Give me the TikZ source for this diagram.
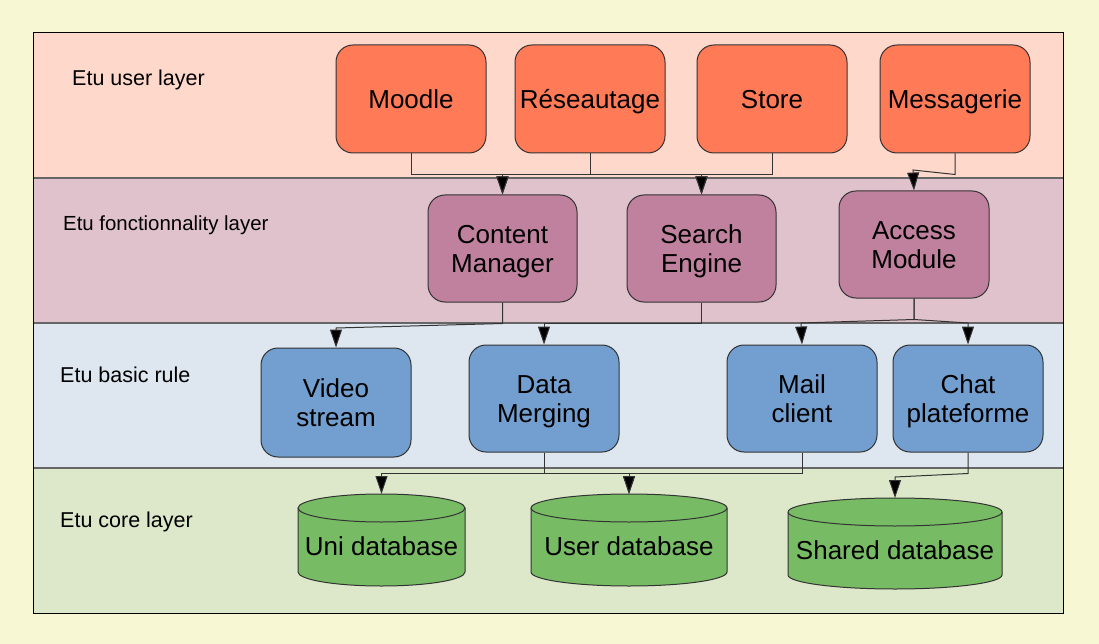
\documentclass[tikz,border=0pt]{standalone}
\usepackage{fontspec}
\setmainfont{Liberation Sans}
\usetikzlibrary{arrows.meta}
\definecolor{bgc}{HTML}{F7F7D4}
\definecolor{layA}{HTML}{FFD8CC}
\definecolor{layB}{HTML}{E0C2CC}
\definecolor{layC}{HTML}{DEE6EF}
\definecolor{layD}{HTML}{DDE8CB}
\definecolor{orangebox}{HTML}{FF7B58}
\definecolor{purplebox}{HTML}{C0819F}
\definecolor{bluebox}{HTML}{729FCF}
\definecolor{greenbox}{HTML}{77BC65}
\definecolor{edgec}{HTML}{333333}
\newcommand{\bs}{\rule[-5pt]{0pt}{28.6pt}}
\newcommand{\ls}{\rule[-4pt]{0pt}{23.4pt}}
\tikzset{
  box/.style={draw=edgec, line width=1pt, rectangle, rounded corners=17pt,
    minimum width=150pt, minimum height=108pt, inner sep=0pt, align=center,
    font=\fontsize{26}{29}\selectfont},
  ubox/.style={box, fill=orangebox},
  fbox/.style={box, fill=purplebox},
  bbox/.style={box, fill=bluebox},
  laylabel/.style={anchor=west, inner sep=0pt, font=\fontsize{21.5}{25}\selectfont},
  conn/.style={draw=edgec, line width=1pt, -{Triangle[length=18pt,width=12pt,fill=black]}},
  dbtext/.style={inner sep=0pt, font=\fontsize{26}{30}\selectfont},
  dbshape/.style={fill=greenbox, draw=edgec, line width=1pt},
}
\newcommand{\dbcyl}[5]{% name, left x, right x, top y, bottom y
  \pgfmathsetmacro{\rxx}{(#3-#2)/2}
  \pgfmathsetmacro{\cxx}{(#3+#2)/2}
  \pgfmathsetmacro{\yta}{#4+14}
  \pgfmathsetmacro{\ytb}{#5-14}
  \path[dbshape] (#2,\yta) -- (#2,\ytb)
     arc[start angle=180, end angle=360, x radius=\rxx pt, y radius=14pt]
     -- (#3,\yta)
     arc[start angle=0, end angle=180, x radius=\rxx pt, y radius=14pt] -- cycle;
  \draw[edgec, line width=1pt] (#2,\yta)
     arc[start angle=180, end angle=360, x radius=\rxx pt, y radius=14pt];
  \coordinate (#1top) at (\cxx,#4);
}
\begin{document}
\begin{tikzpicture}[x=1pt,y=-1pt]
\useasboundingbox (0,0) rectangle (1099,644);
\fill[bgc] (0,0) rectangle (1099,644);
% layers
\fill[layA] (33,33) rectangle (1063,178);
\fill[layB] (33,178) rectangle (1063,323);
\fill[layC] (33,323) rectangle (1063,468);
\fill[layD] (33,468) rectangle (1063,613);
\draw[black!60, line width=1.5pt] (33,178) -- (1063,178);
\draw[black!60, line width=1.5pt] (33,323) -- (1063,323);
\draw[black!60, line width=1.5pt] (33,468) -- (1063,468);
\draw[black, line width=1pt] (33,33) rectangle (1063,613);
% layer labels
\node[laylabel] (l1) at (72,78) {\ls Etu user layer};
\node[laylabel, font=\fontsize{20.4}{24}\selectfont] (l2) at (63,223) {\ls Etu fonctionnality layer};
\node[laylabel] (l3) at (60,375) {\ls Etu basic rule};
\node[laylabel] (l4) at (60,520) {\ls Etu core layer};
% user layer
\node[ubox] (moodle) at (411,99) {\bs Moodle};
\node[ubox] (reseau) at (590,99) {\bs Réseautage};
\node[ubox] (store) at (772,99) {\bs Store};
\node[ubox] (mess) at (955,99) {\bs Messagerie};
% functionality layer
\node[fbox, minimum width=149pt, minimum height=107pt] (cm) at (502.5,248.5) {\bs Content\\\bs Manager};
\node[fbox, minimum width=149pt, minimum height=107pt] (se) at (701.5,248.5) {\bs Search\\\bs Engine};
\node[fbox, minimum width=150pt, minimum height=107pt] (am) at (914,244.5) {\bs Access\\\bs Module};
% basic layer
\node[bbox, minimum height=109pt] (vs) at (336,402.5) {\bs Video\\\bs stream};
\node[bbox, minimum height=107pt] (dm) at (544,398.5) {\bs Data\\\bs Merging};
\node[bbox, minimum height=107pt] (mc) at (802,398.5) {\bs Mail\\\bs client};
\node[bbox, minimum height=107pt] (cp) at (968,398.5) {\bs Chat\\\bs plateforme};
% core layer
\dbcyl{uni}{298}{465}{494}{586}
\dbcyl{user}{531}{727}{494}{586}
\dbcyl{shared}{788}{1002}{498}{589}
\node[dbtext] (unit) at (381.5,546) {\bs Uni database};
\node[dbtext] (usert) at (629,546) {\bs User database};
\node[dbtext] (sharedt) at (895,550) {\bs Shared database};
% connectors
\coordinate (mbend) at (913,170);
\coordinate (vbend) at (336,328);
\coordinate (mcbend) at (801,323);
\coordinate (cpbend) at (968,323);
\coordinate (shbend) at (895,477);
\draw[conn] (moodle.south) -- ++(0,21) -| (cm.north);
\draw[conn] (reseau.south) -- ++(0,21) -| (cm.north);
\draw[conn] (reseau.south) -- ++(0,21) -| (se.north);
\draw[conn] (store.south) -- ++(0,21) -| (se.north);
\draw[conn] (mess.south) -- ++(0,21) -- (mbend) -- (am.north);
\draw[conn] (cm.south) -- ++(0,21) -- (vbend) -- (vs.north);
\draw[conn] (se.south) -- ++(0,21) -| (dm.north);
\draw[conn] (am.south) -- ++(0,21) -- (mcbend) -- (mc.north);
\draw[conn] (am.south) -- ++(0,21) -- (cpbend) -- (cp.north);
\draw[conn] (dm.south) -- ++(0,21) -| (unitop);
\draw[conn] (dm.south) -- ++(0,21) -| (usertop);
\draw[conn] (mc.south) -- ++(0,21) -| (usertop);
\draw[conn] (cp.south) -- ++(0,21) -- (shbend) -- (sharedtop);
\end{tikzpicture}
\end{document}
